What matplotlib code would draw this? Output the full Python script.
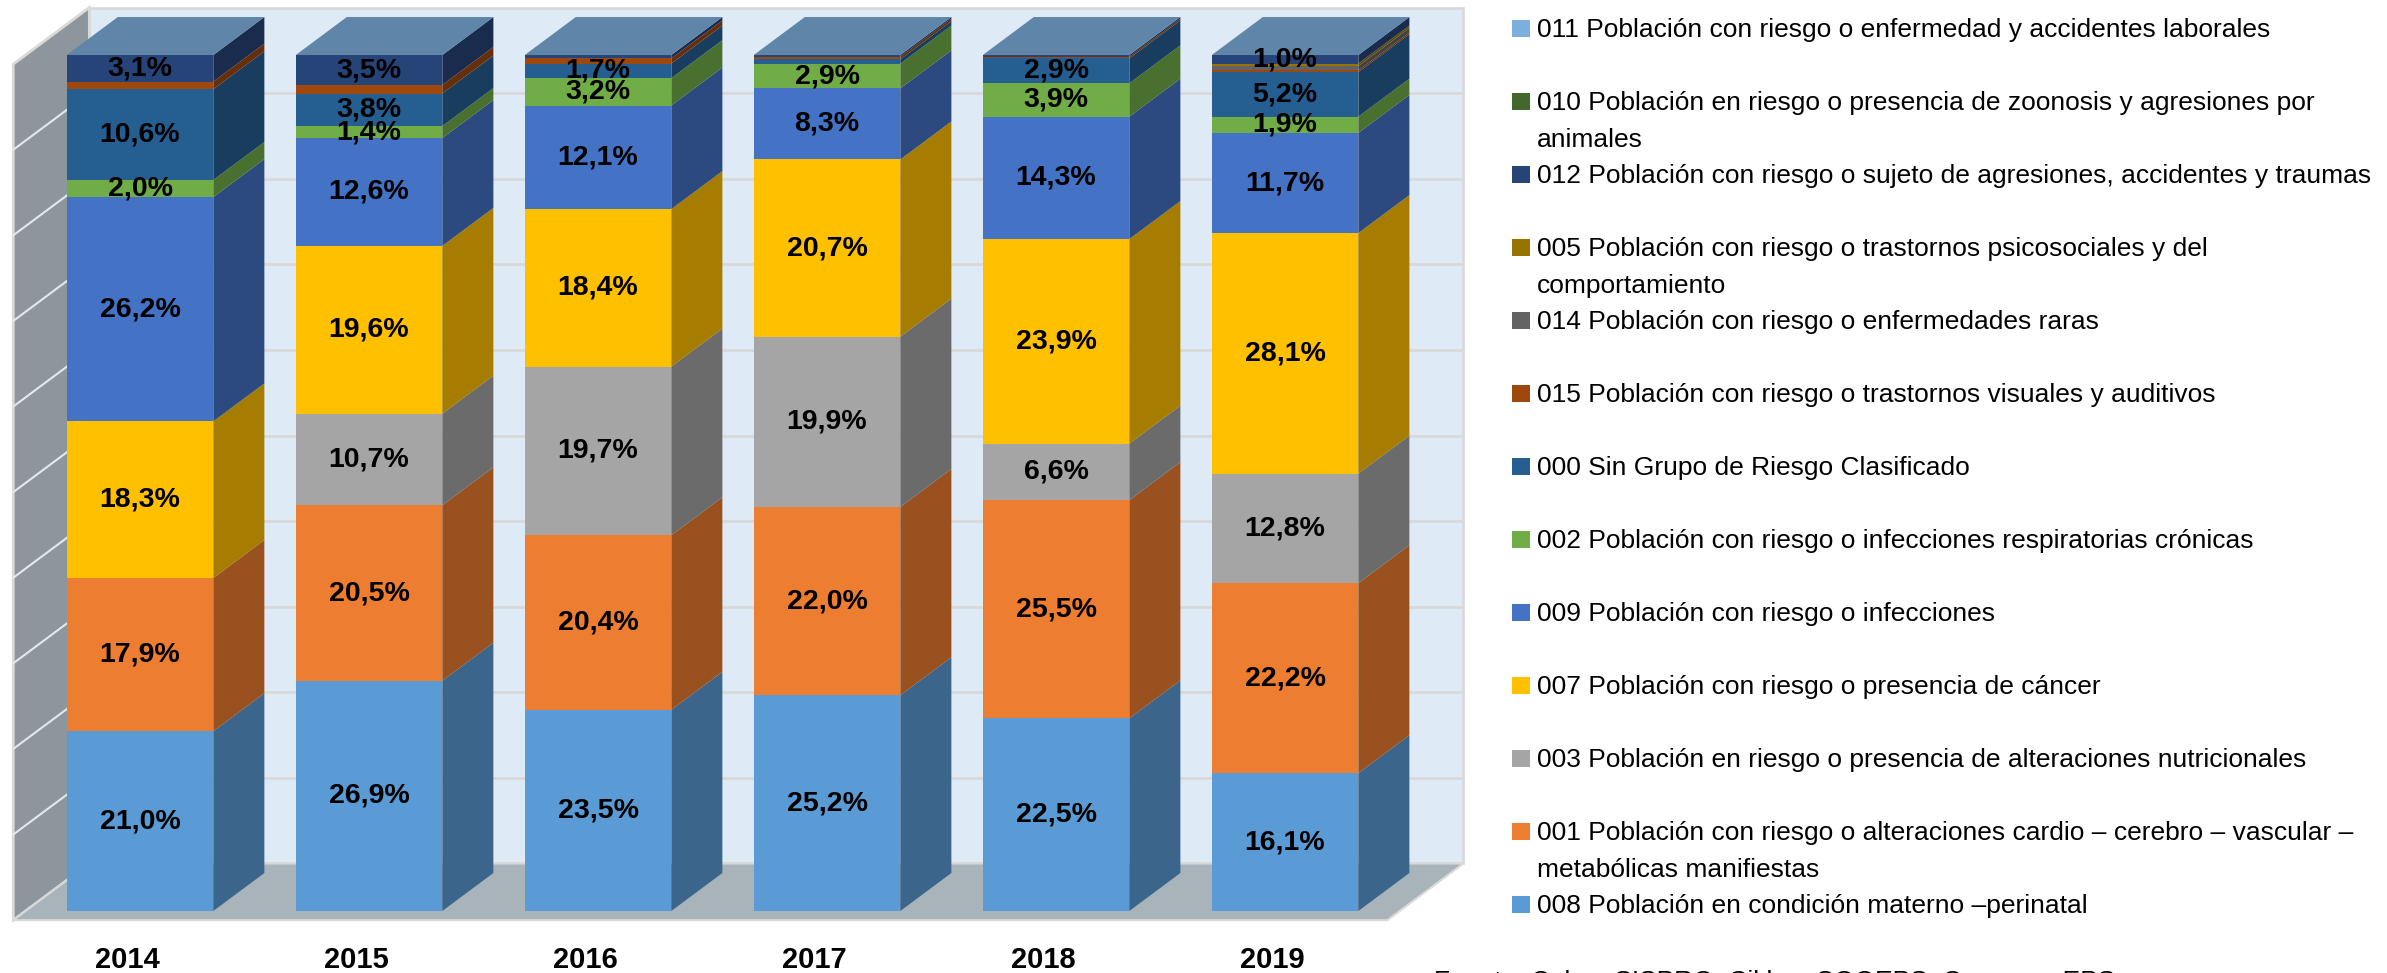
import matplotlib
matplotlib.use('Agg')
import matplotlib.pyplot as plt
from matplotlib.patches import Polygon, Rectangle
from matplotlib.colors import to_rgb

years = ['2014', '2015', '2016', '2017', '2018', '2019']

# porcentajes por grupo de riesgo, de abajo hacia arriba en la pila
s008 = [21.0, 26.9, 23.5, 25.2, 22.5, 16.1]
s001 = [17.9, 20.5, 20.4, 22.0, 25.5, 22.2]
s003 = [0.0, 10.7, 19.7, 19.9, 6.6, 12.8]
s007 = [18.3, 19.6, 18.4, 20.7, 23.9, 28.1]
s009 = [26.2, 12.6, 12.1, 8.3, 14.3, 11.7]
s002 = [2.0, 1.4, 3.2, 2.9, 3.9, 1.9]
s000 = [10.6, 3.8, 1.7, 0.5, 2.9, 5.2]
s015 = [0.9, 1.0, 0.6, 0.3, 0.2, 0.2]
s014 = [0.0, 0.0, 0.0, 0.0, 0.0, 0.5]
s005 = [0.0, 0.0, 0.0, 0.0, 0.0, 0.3]
s012 = [3.1, 3.5, 0.4, 0.2, 0.2, 1.0]
s010 = [0.0, 0.0, 0.0, 0.0, 0.0, 0.0]
s011 = [0.0, 0.0, 0.0, 0.0, 0.0, 0.0]

codes = ['008', '001', '003', '007', '009', '002', '000', '015', '014', '005', '012', '010', '011']
stack = [s008, s001, s003, s007, s009, s002, s000, s015, s014, s005, s012, s010, s011]
colors = ['#5B9BD5', '#ED7D31', '#A5A5A5', '#FFC000', '#4472C4', '#70AD47', '#255E91',
          '#9E480E', '#636363', '#997300', '#264478', '#43682B', '#7CAFDD']
no_label = ['015', '014', '005', '010', '011']

legend_names = {
    '011': '011 Población con riesgo o enfermedad y accidentes laborales',
    '010': '010 Población en riesgo o presencia de zoonosis y agresiones por\nanimales',
    '012': '012 Población con riesgo o sujeto de agresiones, accidentes y traumas',
    '005': '005 Población con riesgo o trastornos psicosociales y del\ncomportamiento',
    '014': '014 Población con riesgo o enfermedades raras',
    '015': '015 Población con riesgo o trastornos visuales y auditivos',
    '000': '000 Sin Grupo de Riesgo Clasificado',
    '002': '002 Población con riesgo o infecciones respiratorias crónicas',
    '009': '009 Población con riesgo o infecciones',
    '007': '007 Población con riesgo o presencia de cáncer',
    '003': '003 Población en riesgo o presencia de alteraciones nutricionales',
    '001': '001 Población con riesgo o alteraciones cardio – cerebro – vascular –\nmetabólicas manifiestas',
    '008': '008 Población en condición materno –perinatal',
}
source = 'Fuente: Cubos SISPRO, Ciklos, COOEPS, Coomeva EPS'

NARROW = ['Liberation Sans Narrow', 'Liberation Sans', 'DejaVu Sans']
REG = ['Liberation Sans', 'DejaVu Sans']

W = 0.64          # ancho de la barra
DX, DY = 0.223, 4.44   # desplazamiento de profundidad (unidad de categoria, %)
DF, DB = -0.24, 1.25   # borde frontal del piso y pared del fondo


def proj(x, y, d):
    return (x + d * DX, y + d * DY)


def shade(c, f=0.65):
    r, g, b = to_rgb(c)
    return (r * f, g * f, b * f)


fig = plt.figure(figsize=(23.87, 9.73), dpi=100)
ax = fig.add_axes([0, 0, 1, 1])
ax.set_xlim(-0.6114, 9.812)
ax.set_ylim(-7.243, 106.43)
ax.axis('off')

x0, x1 = -0.5, len(years) - 0.5
# pared del fondo, pared izquierda y piso
ax.add_patch(Polygon([proj(x0, 0, DB), proj(x1, 0, DB), proj(x1, 100, DB), proj(x0, 100, DB)],
                     closed=True, facecolor='#DEEBF7', edgecolor='#D9D9D9', lw=2, zorder=0))
ax.add_patch(Polygon([proj(x0, 0, DF), proj(x0, 0, DB), proj(x0, 100, DB), proj(x0, 100, DF)],
                     closed=True, facecolor='#8E969D', edgecolor='#D9D9D9', lw=2, zorder=0))
ax.add_patch(Polygon([proj(x0, 0, DF), proj(x1, 0, DF), proj(x1, 0, DB), proj(x0, 0, DB)],
                     closed=True, facecolor='#A9B3BA', edgecolor='#D9D9D9', lw=1.5, zorder=0.5))
for g in range(10, 100, 10):
    bx, by = zip(proj(x0, g, DB), proj(x1, g, DB))
    ax.plot(bx, by, color='#D9D9D9', lw=2, zorder=0.6)
    lx, ly = zip(proj(x0, g, DF), proj(x0, g, DB))
    ax.plot(lx, ly, color='#E4E8EB', lw=1.5, zorder=0.6)

for i, yr in enumerate(years):
    bottom = 0.0
    for code, vals, c in zip(codes, stack, colors):
        v = vals[i]
        if v <= 0:
            continue
        xr = i + W / 2
        ax.add_patch(Polygon([proj(xr, bottom, 0), proj(xr, bottom, 1),
                              proj(xr, bottom + v, 1), proj(xr, bottom + v, 0)],
                             closed=True, facecolor=shade(c), edgecolor='none', zorder=2))
        ax.bar(i, v, bottom=bottom, width=W, color=c, edgecolor='none', zorder=3)
        if code not in no_label and v >= 1.0:
            ax.text(i, bottom + v / 2, f'{v:.1f}%'.replace('.', ','), ha='center', va='center',
                    fontsize=20.5, fontweight='bold', family=NARROW, color='black', zorder=5)
        bottom += v
    xl, xr = i - W / 2, i + W / 2
    ax.add_patch(Polygon([proj(xl, bottom, 0), proj(xr, bottom, 0), proj(xr, bottom, 1), proj(xl, bottom, 1)],
                         closed=True, facecolor='#5F85A8', edgecolor='none', zorder=3))
    ax.text(i + DF * DX, -5.7, yr, ha='center', va='center', fontsize=21,
            fontweight='bold', family=NARROW, color='black')

# leyenda
H = 973.0
Wp = 2387.0
legend_order = ['011', '010', '012', '005', '014', '015', '000', '002', '009', '007', '003', '001', '008']
for k, code in enumerate(legend_order):
    base = 37 + 73 * k
    c = colors[codes.index(code)]
    fig.add_artist(Rectangle((1512 / Wp, 1 - base / H), 18 / Wp, 17 / H,
                             transform=fig.transFigure, facecolor=c, edgecolor='none'))
    for j, line in enumerate(legend_names[code].split('\n')):
        fig.text(1537 / Wp, 1 - (base + 36.7 * j) / H, line, ha='left', va='baseline',
                 fontsize=19, family=NARROW, color='black')

fig.text(1434 / Wp, 1 - 988 / H, source, ha='left', va='baseline', fontsize=19,
         family=REG, color='black')

fig.savefig('out.png', dpi=100)
